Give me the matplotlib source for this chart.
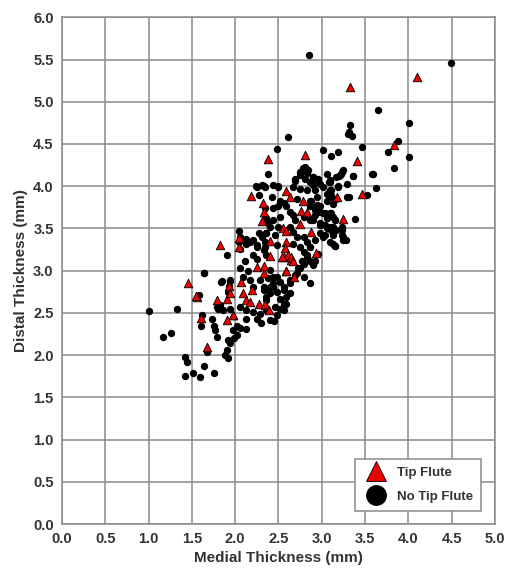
import matplotlib
matplotlib.use("Agg")
import matplotlib.pyplot as plt
from matplotlib.lines import Line2D

plt.rcParams['font.family'] = ['Liberation Sans', 'DejaVu Sans']

# No Tip Flute (medial, distal)
no_tip_x = [2.85, 4.49, 3.65, 4.01, 2.61, 3.33, 3.30, 3.35, 3.32, 3.88, 3.77, 4.01, 3.83, 3.46,
            3.02, 3.11, 3.19, 2.78, 2.83, 3.24, 3.22, 3.20, 3.36, 3.58, 2.69, 2.90, 2.96, 2.48,
            2.81, 2.84, 2.75, 2.90, 2.94, 2.69, 3.08, 2.25, 2.34, 2.49,
            1.91, 1.64, 1.85, 1.94, 1.93, 1.58, 1.92, 1.00, 1.33, 1.79, 1.80, 1.94, 1.62, 1.60,
            1.73, 1.76, 1.77, 1.79, 1.26, 1.17, 1.98, 2.02, 2.06, 2.13, 2.02, 1.99, 1.92, 1.94,
            1.68, 1.90, 1.88, 1.92, 1.42, 1.44, 1.64, 1.75, 1.51, 1.42, 1.59,
            2.24, 2.33, 2.27, 2.34, 2.36, 2.38, 2.04, 2.06, 2.13, 2.17, 2.21, 2.27, 2.31, 2.36,
            2.34, 2.25,
            2.38, 2.75, 2.81, 2.90, 2.96, 3.06, 3.09, 3.17, 2.31, 2.44, 2.50, 2.67, 2.75, 2.83,
            2.90, 3.02, 3.09, 2.42, 2.52, 2.56, 2.71, 2.86, 2.94, 3.06, 3.11, 3.17,
            2.44, 2.50, 2.59, 2.63, 2.67, 2.69, 2.79, 2.86, 2.92, 2.98, 3.02, 3.06, 3.11, 3.15,
            2.98, 3.06, 3.13, 2.44, 2.52, 2.50, 2.40, 2.36, 2.46, 2.63, 2.67, 2.71, 2.79, 2.83,
            2.92, 3.02, 3.09, 2.67, 2.75, 2.86, 2.48, 2.34,
            2.04, 2.06, 2.13, 2.25, 2.33, 2.36, 2.21, 2.11, 2.25, 1.64, 2.06, 2.15, 2.40, 2.09,
            2.17, 2.29, 2.38, 2.21, 2.33, 2.40, 1.84, 1.94, 1.82, 1.86, 2.06, 2.13, 2.21, 2.29,
            2.36, 2.13, 2.25, 2.40, 2.36,
            3.15, 2.86, 2.86, 2.83, 2.86, 2.79, 2.75, 2.90, 2.71, 2.79, 2.63, 2.52, 2.44, 2.44,
            2.56, 2.63, 2.52, 2.59, 2.46, 2.56, 2.48, 2.36, 2.33,
            3.23, 3.21, 3.36, 3.59, 3.19, 3.11, 3.29, 3.52, 3.63, 3.13, 3.09, 3.15, 3.38, 3.23,
            3.23, 3.11, 3.25, 3.28, 3.13, 3.15, 2.40, 2.30, 2.45,
            2.92, 2.96, 2.79, 2.83, 2.77, 2.73, 2.69, 2.63, 2.56, 2.48, 2.59, 2.56, 2.52, 2.44,
            2.48,
            2.86, 2.98, 3.09, 3.19, 3.29, 2.92, 3.06, 3.11, 3.31, 2.88, 2.94, 2.86, 2.98, 3.04,
            3.06, 3.13, 2.92, 2.90, 2.98, 3.04, 3.09, 3.17, 3.23, 3.23, 3.25, 3.13, 3.04, 2.98]
no_tip_y = [5.55, 5.46, 4.90, 4.75, 4.58, 4.72, 4.62, 4.60, 4.64, 4.54, 4.40, 4.34, 4.22, 4.46,
            4.43, 4.36, 4.40, 4.21, 4.16, 4.19, 4.15, 4.12, 4.12, 4.14, 4.08, 4.08, 4.08, 4.44,
            4.23, 4.19, 4.13, 4.11, 4.08, 4.06, 4.05, 3.99, 3.99, 3.99,
            3.18, 2.97, 2.88, 2.88, 2.82, 2.71, 2.75, 2.52, 2.55, 2.57, 2.54, 2.54, 2.48, 2.35,
            2.43, 2.34, 2.30, 2.22, 2.26, 2.21, 2.30, 2.34, 2.32, 2.31, 2.24, 2.20, 2.18, 2.14,
            2.04, 2.06, 2.00, 1.96, 1.98, 1.92, 1.87, 1.79, 1.79, 1.75, 1.74,
            4.00, 4.00, 3.89, 3.74, 3.62, 3.56, 3.47, 3.40, 3.38, 3.34, 3.36, 3.44, 3.40, 3.44,
            3.34, 3.30,
            4.15, 4.17, 4.09, 4.11, 4.07, 4.14, 4.07, 4.11, 4.01, 4.01, 4.00, 3.99, 3.97, 3.95,
            4.01, 3.99, 3.95, 3.87, 3.83, 3.80, 3.85, 3.83, 3.87, 3.83, 3.89, 3.85,
            3.74, 3.76, 3.76, 3.70, 3.66, 3.60, 3.64, 3.60, 3.72, 3.76, 3.68, 3.62, 3.68, 3.60,
            3.54, 3.50, 3.52, 3.60, 3.64, 3.52, 3.52, 3.44, 3.42, 3.52, 3.46, 3.40, 3.40, 3.34,
            3.36, 3.40, 3.34, 3.32, 3.28, 3.28, 3.30, 3.28,
            3.34, 3.26, 3.32, 3.28, 3.24, 3.18, 3.18, 3.12, 3.14, 2.97, 3.03, 2.99, 3.01, 2.93,
            2.89, 2.89, 2.91, 2.81, 2.77, 2.81, 2.87, 2.89, 2.59, 2.53, 2.57, 2.53, 2.51, 2.49,
            2.53, 2.43, 2.43, 2.73, 2.65,
            3.29, 2.85, 3.28, 3.18, 3.12, 3.08, 3.03, 3.07, 2.97, 2.93, 2.85, 2.87, 2.93, 2.81,
            2.77, 2.73, 2.67, 2.61, 2.57, 2.53, 2.47, 2.69, 2.81,
            4.17, 4.13, 4.12, 4.14, 4.00, 3.95, 3.87, 3.89, 3.98, 3.79, 3.68, 3.60, 3.61, 3.52,
            3.48, 3.48, 3.40, 3.36, 3.42, 3.29, 2.42, 2.38, 2.40,
            3.11, 3.20, 3.22, 3.16, 3.11, 3.03, 2.95, 2.89, 2.81, 2.75, 2.69, 2.61, 2.55, 2.85,
            2.93,
            4.05, 4.03, 4.05, 3.99, 4.03, 3.95, 3.91, 3.87, 3.87, 3.83, 3.78, 3.76, 3.70, 3.68,
            3.62, 3.64, 3.66, 3.60, 3.56, 3.54, 3.52, 3.48, 3.50, 3.42, 3.36, 3.32, 3.42, 3.44]

# Tip Flute (medial, distal)
tip_x = [4.10, 3.33, 3.83, 2.81, 3.41, 2.38, 2.59, 2.18, 2.32, 2.33, 2.31, 2.63, 2.78, 2.76,
         2.83, 2.75, 2.88, 2.55, 2.59, 1.82, 2.04, 2.04, 2.40, 2.59, 2.58, 2.56, 2.61, 2.65,
         2.40, 2.93, 2.25, 1.46, 1.93, 1.56, 1.79, 1.91, 1.98, 1.61, 1.90, 1.67, 3.18, 3.46,
         3.25, 2.54, 2.64, 2.67, 2.33, 2.59, 2.68, 2.34, 2.39, 2.07, 2.09, 2.12, 2.17, 2.19,
         1.94, 1.55, 2.27, 2.34, 1.97, 2.33, 2.59]
tip_y = [5.29, 5.17, 4.49, 4.37, 4.30, 4.32, 3.94, 3.88, 3.80, 3.70, 3.59, 3.87, 3.82, 3.71,
         3.70, 3.55, 3.46, 3.51, 3.47, 3.30, 3.39, 3.28, 3.35, 3.34, 3.27, 3.16, 3.18, 3.13,
         3.17, 3.21, 3.04, 2.85, 2.82, 2.69, 2.65, 2.67, 2.47, 2.44, 2.41, 2.09, 3.87, 3.91,
         3.61, 3.16, 3.16, 3.11, 2.97, 2.99, 2.93, 2.59, 2.53, 2.87, 2.73, 2.65, 2.63, 2.77,
         2.73, 2.70, 2.60, 2.61, 2.47, 3.05, 3.00]

x_ticks = [0.0, 0.5, 1.0, 1.5, 2.0, 2.5, 3.0, 3.5, 4.0, 4.5, 5.0]
y_ticks = [0.0, 0.5, 1.0, 1.5, 2.0, 2.5, 3.0, 3.5, 4.0, 4.5, 5.0, 5.5, 6.0]

fig = plt.figure(figsize=(5.05, 5.72), dpi=100)
ax = fig.add_axes([0.1228, 0.0839, 0.8572, 0.8859])

ax.scatter(no_tip_x, no_tip_y, s=28, c='black', marker='o', linewidths=0, zorder=3)
ax.scatter(tip_x, tip_y, s=38, c='#ee0000', marker='^', edgecolors='black',
           linewidths=0.6, zorder=4)

ax.set_xlim(0, 5)
ax.set_ylim(0, 6)
ax.set_xticks(x_ticks)
ax.set_yticks(y_ticks)
ax.set_xticklabels([f"{v:.1f}" for v in x_ticks])
ax.set_yticklabels([f"{v:.1f}" for v in y_ticks])
ax.grid(True, color='#8a8a8a', linewidth=1.1, zorder=0)
ax.set_axisbelow(True)
for sp in ax.spines.values():
    sp.set_color('#8a8a8a')
    sp.set_linewidth(1.1)
ax.tick_params(axis='both', length=0, pad=6, labelsize=10.5)
for lab in ax.get_xticklabels() + ax.get_yticklabels():
    lab.set_fontweight('bold')
    lab.set_color('#333333')

ax.set_xlabel('Medial Thickness (mm)', fontsize=11, fontweight='bold', color='#333333', labelpad=3)
ax.set_ylabel('Distal Thickness (mm)', fontsize=11, fontweight='bold', color='#333333', labelpad=4)

handles = [
    Line2D([], [], linestyle='none', marker='^', markersize=14, markerfacecolor='#ee0000',
           markeredgecolor='black', markeredgewidth=0.6, label='Tip Flute'),
    Line2D([], [], linestyle='none', marker='o', markersize=14, markerfacecolor='black',
           markeredgecolor='black', label='No Tip Flute'),
]
leg = ax.legend(handles=handles, loc='lower right', bbox_to_anchor=(0.969, 0.026),
                frameon=True, fancybox=False, edgecolor='#8a8a8a', framealpha=1,
                prop={'weight': 'bold', 'size': 9.5}, labelspacing=0.9,
                handletextpad=0.6, borderpad=0.6, borderaxespad=0)
leg.get_frame().set_linewidth(1.1)
for t in leg.get_texts():
    t.set_color('#333333')

fig.savefig('out.png', dpi=100)
